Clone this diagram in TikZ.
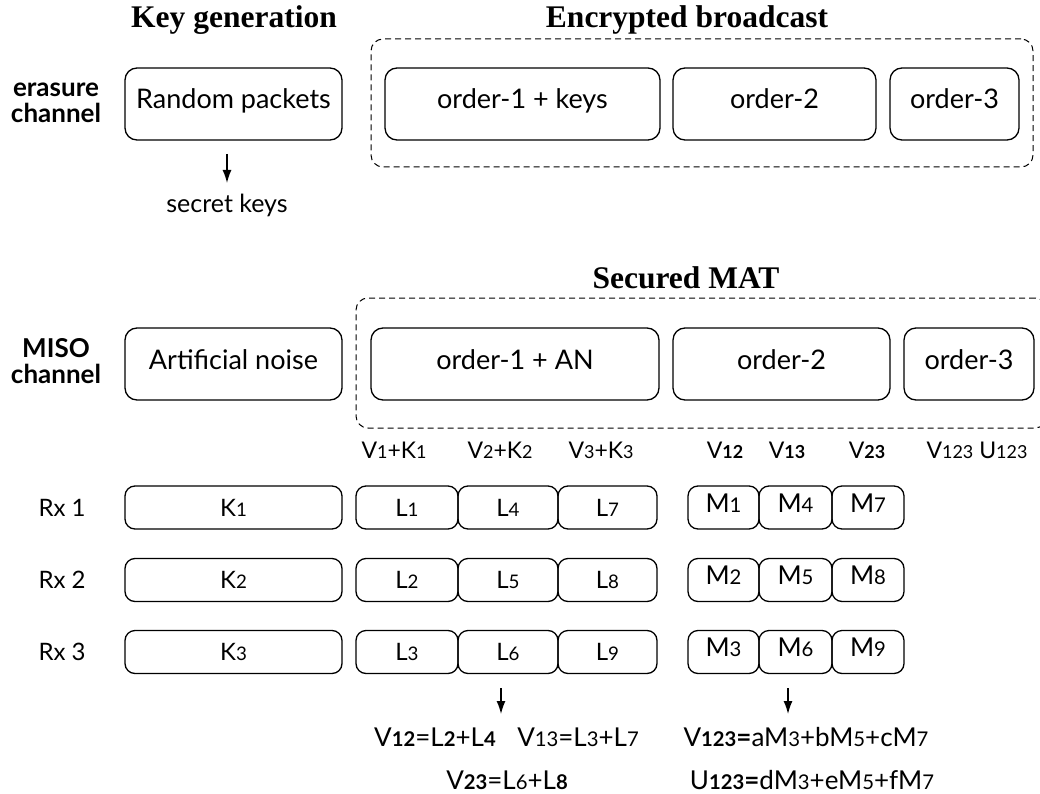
\documentclass[tikz,border=0pt]{standalone}
\usepackage{fontspec}
\setmainfont{Lato}
\newfontfamily\titlefont{Liberation Serif}
\usepackage{graphicx}
\usetikzlibrary{arrows.meta}
\newcommand\sbs[1]{\scalebox{0.78}{#1}}
\begin{document}
\begin{tikzpicture}[x=1pt,y=-1pt,
  box/.style={draw, rounded corners=12pt, line width=1.3pt, inner sep=0pt, minimum height=72pt, text height=19pt, text depth=9pt, font=\fontsize{27}{30}\selectfont},
  cell/.style={draw, rounded corners=10pt, line width=1.3pt, inner sep=0pt, minimum height=43pt, text height=17pt, text depth=0pt, font=\fontsize{24}{26}\selectfont},
  mcell/.style={cell, text height=18pt, text depth=9pt, font=\fontsize{26}{28}\selectfont},
  grp/.style={draw, dash pattern=on 6pt off 4pt, rounded corners=12pt, line width=1pt, inner sep=0pt},
  title/.style={font=\titlefont\bfseries\fontsize{31.5}{34}\selectfont, anchor=base},
  side/.style={font=\bfseries\fontsize{26}{28}\selectfont, anchor=base},
  lbl/.style={font=\fontsize{23}{26}\selectfont, anchor=base},
  sklbl/.style={font=\fontsize{25}{28}\selectfont, anchor=base},
  rx/.style={font=\fontsize{24}{26}\selectfont, anchor=base west},
  fml/.style={font=\fontsize{26}{28}\selectfont, anchor=base},
  arr/.style={-{Latex[length=13pt,width=9pt]}, line width=1.4pt}]
\useasboundingbox (0,0) rectangle (1040,794);
\clip (0,0) rectangle (1040,794);

% titles
\node[title] (tkg) at (234,28) {Key generation};
\node[title] (teb) at (687,28) {Encrypted broadcast};
\node[title] (tsm) at (686,288) {Secured MAT};

% side labels
\node[side] (ec1) at (56,97) {erasure};
\node[side] (ec2) at (56,123) {channel};
\node[side] (mc1) at (56,357) {MISO};
\node[side] (mc2) at (56,383) {channel};

% dashed groups
\node[grp, minimum width=662pt, minimum height=128pt] (g1) at (702,103) {};
\node[grp, minimum width=691pt, minimum height=130pt] (g2) at (701.5,363) {};

% erasure row
\node[box, minimum width=217pt] (rp) at (233.5,104) {Random packets};
\node[box, minimum width=275pt] (o1k) at (522.5,104) {order-1 + keys};
\node[box, minimum width=203pt] (o2t) at (774.5,104) {order-2};
\node[box, minimum width=129pt] (o3t) at (954.5,104) {order-3};
\node[sklbl] (sk) at (227,213) {secret keys};
\coordinate (a1s) at (227,154);
\coordinate (a1e) at (227,183);
\draw[arr] (a1s) -- (a1e);

% MISO row
\node[box, minimum width=217pt] (an) at (233.5,364) {Artificial noise};
\node[box, minimum width=288pt] (o1a) at (515,364) {order-1 + AN};
\node[box, minimum width=217pt] (o2b) at (781.5,364) {order-2};
\node[box, minimum width=130pt] (o3b) at (969,364) {order-3};

% labels under MISO row
\node[lbl] (v1) at (394,458) {V\sbs{1}+K\sbs{1}};
\node[lbl] (v2) at (500,458) {V\sbs{2}+K\sbs{2}};
\node[lbl] (v3) at (601,458) {V\sbs{3}+K\sbs{3}};
\node[lbl] (v12) at (725,458) {V\sbs{\textbf{12}}};
\node[lbl] (v13) at (787,458) {V\sbs{\textbf{13}}};
\node[lbl] (v23) at (867,458) {V\sbs{\textbf{23}}};
\node[lbl] (vu) at (977,458) {V\sbs{123} U\sbs{123}};

% receivers
\node[rx] (rx1) at (35,516) {Rx 1};
\node[rx] (rx2) at (35,588) {Rx 2};
\node[rx] (rx3) at (35,660) {Rx 3};

\foreach \r/\y in {1/507.5,2/580,3/652}{
  \node[cell, minimum width=217pt] (K\r) at (233.5,\y) {K\sbs{\r}};
}
\foreach \a/\b/\c/\y in {1/4/7/507.5,2/5/8/580,3/6/9/652}{
  \node[cell, minimum width=102pt] (L\a) at (407,\y) {L\sbs{\a}};
  \node[cell, minimum width=100pt] (L\b) at (508,\y) {L\sbs{\b}};
  \node[cell, minimum width=99pt] (L\c) at (607.5,\y) {L\sbs{\c}};
  \node[mcell, minimum width=71pt] (M\a) at (723.5,\y) {M\sbs{\a}};
  \node[mcell, minimum width=73pt] (M\b) at (795.5,\y) {M\sbs{\b}};
  \node[mcell, minimum width=72pt] (M\c) at (868,\y) {M\sbs{\c}};
}

% formulas
\node[fml] (f1) at (435,746) {V\sbs{\textbf{12}}=L\sbs{\textbf{2}}+L\sbs{\textbf{4}}};
\node[fml] (f2) at (578,746) {V\sbs{13}=L\sbs{3}+L\sbs{7}};
\node[fml] (f3) at (507,789) {V\sbs{\textbf{23}}=L\sbs{6}+L\sbs{\textbf{8}}};
\node[fml] (f4) at (806,746) {V\sbs{\textbf{123}}\textbf{=}aM\sbs{3}+bM\sbs{5}+cM\sbs{7}};
\node[fml] (f5) at (812,789) {U\sbs{\textbf{123}}\textbf{=}dM\sbs{3}+eM\sbs{5}+fM\sbs{7}};

\coordinate (a2s) at (501,688);
\coordinate (a2e) at (501,714);
\coordinate (a3s) at (788,688);
\coordinate (a3e) at (788,714);
\draw[arr] (a2s) -- (a2e);
\draw[arr] (a3s) -- (a3e);
\end{tikzpicture}
\end{document}
